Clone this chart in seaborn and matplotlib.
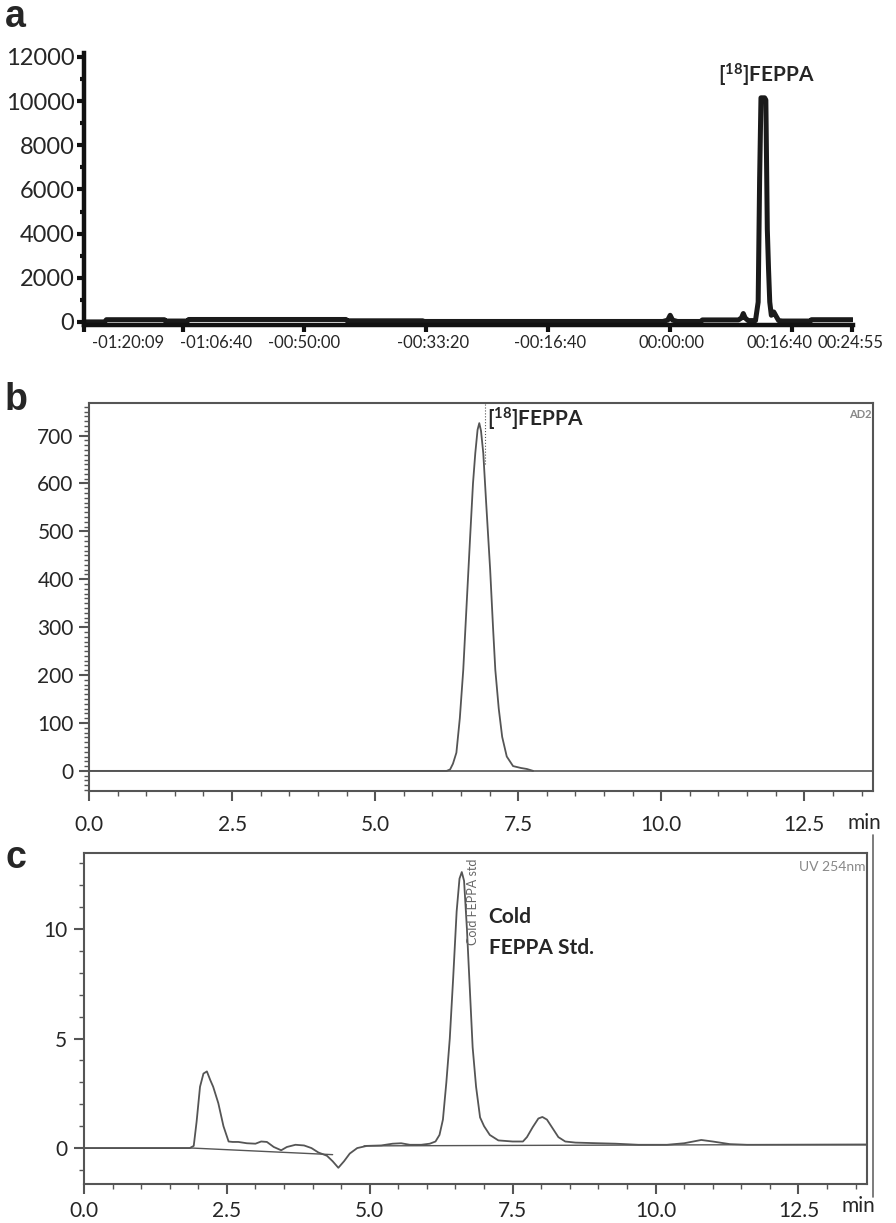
import numpy as np
import matplotlib
matplotlib.use("Agg")
import matplotlib.pyplot as plt
import seaborn as sns
from matplotlib.lines import Line2D
from matplotlib.ticker import MultipleLocator, FixedLocator
from matplotlib.transforms import ScaledTranslation

sns.set_style("ticks")
plt.rcParams["font.family"] = ["Lato", "DejaVu Sans"]
plt.rcParams["mathtext.fontset"] = "custom"
plt.rcParams["mathtext.rm"] = "Lato:bold"
plt.rcParams["mathtext.it"] = "Lato:bold"
plt.rcParams["mathtext.bf"] = "Lato:bold"

# ---- panel a: radio trace (time in s relative to injection) ----
a_time = [-4809, -4640, -4625, -4150, -4140, -3960, -3950, -2660, -2650, -2030, -2020,
          -1000, -60, -20, 0, 20, 60, 250, 265, 560, 585, 600, 615, 640, 700, 722, 734,
          745, 760, 775, 785, 797, 807, 817, 830, 850, 870, 890, 920, 1150, 1160, 1495]
a_counts = [0, 0, 100, 100, 40, 40, 110, 110, 50, 50, 20,
            20, 20, 80, 300, 80, 20, 20, 90, 90, 180, 380, 180, 60, 60, 900, 6500,
            10150, 10150, 10150, 10050, 4200, 2400, 900, 300, 450, 250, 60, 40, 40, 100, 100]
a_tick_pos = [-4809, -4000, -3000, -2000, -1000, 0, 1000, 1495]
a_tick_lab = ["-01:20:09", "-01:06:40", "-00:50:00", "-00:33:20", "-00:16:40",
              "00:00:00", "00:16:40", "00:24:55"]
a_lab_shift = [44, 33, 0, 7, 2, 1, -13, -2]   # px, labels sit off their ticks
a_peak_time = 788

# ---- panel b: radio HPLC (min, mV) ----
b_time = [0.0, 6.25, 6.31, 6.36, 6.42, 6.48, 6.54, 6.60, 6.66, 6.71, 6.75, 6.79, 6.82,
          6.85, 6.89, 6.94, 7.01, 7.06, 7.10, 7.16, 7.22, 7.30, 7.41, 7.55, 7.65, 7.76]
b_signal = [0, 0, 3, 15, 38, 110, 211, 350, 488, 600, 663, 712, 726,
            710, 663, 560, 420, 300, 211, 130, 71, 30, 10, 6, 4, 0]
b_ticks = [0.0, 2.5, 5.0, 7.5, 10.0, 12.5]
b_marker_time = 6.92

# ---- panel c: UV 254 nm trace (min, mAU) ----
c_time = [0.0, 1.85, 1.92, 1.97, 2.03, 2.09, 2.15, 2.21, 2.26, 2.35, 2.44, 2.53, 2.6,
          2.7, 2.85, 3.0, 3.1, 3.2, 3.32, 3.45, 3.55, 3.7, 3.85, 3.98, 4.1, 4.25, 4.35,
          4.45, 4.55, 4.65, 4.78, 4.95, 5.2, 5.4, 5.55, 5.7, 5.9, 6.05, 6.15, 6.22, 6.28,
          6.34, 6.40, 6.46, 6.52, 6.57, 6.61, 6.65, 6.70, 6.75, 6.80, 6.86, 6.93, 7.0,
          7.1, 7.25, 7.5, 7.68, 7.75, 7.85, 7.95, 8.02, 8.1, 8.2, 8.3, 8.42, 8.6, 9.0,
          9.3, 9.7, 10.2, 10.5, 10.8, 11.0, 11.3, 11.6, 13.7]
c_signal = [0.0, 0.0, 0.1, 1.2, 2.8, 3.4, 3.5, 3.1, 2.8, 2.05, 1.0, 0.3, 0.28,
            0.28, 0.22, 0.2, 0.3, 0.28, 0.05, -0.1, 0.05, 0.15, 0.12, 0.0, -0.2, -0.35, -0.6,
            -0.9, -0.6, -0.25, 0.0, 0.1, 0.12, 0.2, 0.22, 0.15, 0.15, 0.2, 0.3, 0.6, 1.3,
            3.0, 5.0, 7.8, 10.8, 12.3, 12.6, 12.2, 10.0, 7.3, 4.6, 2.8, 1.4, 1.0,
            0.6, 0.35, 0.3, 0.3, 0.5, 0.95, 1.35, 1.42, 1.3, 0.9, 0.5, 0.3, 0.25, 0.22,
            0.2, 0.15, 0.15, 0.22, 0.37, 0.3, 0.18, 0.15, 0.15]
c_base1_time = [0.0, 1.9, 4.35]
c_base1 = [0.0, 0.0, -0.3]
c_base2_time = [4.9, 13.7]
c_base2 = [0.1, 0.17]
c_ticks = [0.0, 2.5, 5.0, 7.5, 10.0, 12.5]

fig = plt.figure(figsize=(8.96, 12.23), dpi=100)
W, H = 896, 1223

def box(l, t, r, b):
    return [l / W, 1 - b / H, (r - l) / W, (b - t) / H]

# ================= a =================
ax_a = fig.add_axes(box(84, 53, 853, 325))
sns.lineplot(x=a_time, y=a_counts, ax=ax_a, color="#1a1a1a", linewidth=3.6,
             estimator=None, sort=False)
ax_a.set_xlim(-4809, 1500)
ax_a.set_ylim(-140, 12180)
for s in ["top", "right"]:
    ax_a.spines[s].set_visible(False)
for s in ["left", "bottom"]:
    ax_a.spines[s].set_linewidth(3.2)
    ax_a.spines[s].set_color("#111111")
ax_a.yaxis.set_major_locator(MultipleLocator(2000))
ax_a.yaxis.set_minor_locator(MultipleLocator(1000))
ax_a.xaxis.set_major_locator(FixedLocator(a_tick_pos))
ax_a.set_xticklabels(a_tick_lab)
ax_a.tick_params(axis="y", which="major", direction="out", length=5, width=3,
                 labelsize=17, pad=2, color="#111111")
ax_a.tick_params(axis="y", which="minor", direction="out", length=3, width=3, color="#111111")
ax_a.tick_params(axis="x", which="major", direction="out", length=5, width=3,
                 labelsize=12, pad=2, color="#111111")
for lab, dx in zip(ax_a.get_xticklabels(), a_lab_shift):
    lab.set_transform(lab.get_transform() + ScaledTranslation(dx / 100, 0, fig.dpi_scale_trans))
ax_a.set_xlabel("")
ax_a.set_ylabel("")
ax_a.text(a_peak_time, 11150, r"[$^{18}$]FEPPA", fontsize=15, fontweight="bold",
          ha="center", va="center")
fig.text(5 / W, 1 - 27 / H, "a", fontsize=27, fontweight="bold",
         family="Liberation Sans", ha="left", va="baseline")

# ================= b =================
gray = "#555555"
ax_b = fig.add_axes(box(89, 403, 873, 791))
ax_b.axhline(0, color=gray, linewidth=1.2)
sns.lineplot(x=b_time, y=b_signal, ax=ax_b, color=gray, linewidth=1.3,
             estimator=None, sort=False)
ax_b.plot([b_marker_time, b_marker_time], [640, 768], color=gray, linewidth=0.8,
          linestyle=":")
ax_b.set_xlim(0, 13.7)
ax_b.set_ylim(-42, 768)
ax_b.xaxis.set_major_locator(FixedLocator(b_ticks))
ax_b.xaxis.set_minor_locator(MultipleLocator(0.5))
ax_b.yaxis.set_major_locator(MultipleLocator(100))
ax_b.yaxis.set_minor_locator(MultipleLocator(10))
for s in ax_b.spines.values():
    s.set_color(gray)
    s.set_linewidth(1.5)
ax_b.tick_params(which="major", direction="out", length=7, width=1.5, color=gray,
                 labelsize=15, pad=4)
ax_b.tick_params(axis="x", which="major", pad=10)
ax_b.tick_params(which="minor", direction="out", length=3.5, width=1.0, color=gray)
ax_b.set_xlabel("")
ax_b.set_ylabel("")
ax_b.text(6.96, 733, r"[$^{18}$]FEPPA", fontsize=15, fontweight="bold",
          ha="left", va="center")
ax_b.text(0.998, 0.985, "AD2", transform=ax_b.transAxes, fontsize=8, color="#888888",
          ha="right", va="top", fontweight="bold")
ax_b.text(13.55, -108, "min", fontsize=15, ha="center", va="center")
fig.text(5 / W, 1 - 410 / H, "b", fontsize=27, fontweight="bold",
         family="Liberation Sans", ha="left", va="baseline")

# ================= c =================
ax_c = fig.add_axes(box(84, 853, 867, 1184))
sns.lineplot(x=c_base1_time, y=c_base1, ax=ax_c, color=gray, linewidth=1.0,
             estimator=None, sort=False)
sns.lineplot(x=c_base2_time, y=c_base2, ax=ax_c, color=gray, linewidth=1.0,
             estimator=None, sort=False)
sns.lineplot(x=c_time, y=c_signal, ax=ax_c, color=gray, linewidth=1.3,
             estimator=None, sort=False)
ax_c.set_xlim(0, 13.7)
ax_c.set_ylim(-1.64, 13.47)
ax_c.xaxis.set_major_locator(FixedLocator(c_ticks))
ax_c.xaxis.set_minor_locator(MultipleLocator(0.5))
ax_c.yaxis.set_major_locator(MultipleLocator(5))
ax_c.yaxis.set_minor_locator(MultipleLocator(1))
for s in ax_c.spines.values():
    s.set_color(gray)
    s.set_linewidth(1.5)
ax_c.tick_params(which="major", direction="out", length=7, width=1.5, color=gray,
                 labelsize=15, pad=5)
ax_c.tick_params(which="minor", direction="out", length=3.5, width=1.0, color=gray)
ax_c.set_xlabel("")
ax_c.set_ylabel("")
ax_c.text(6.8, 13.2, "Cold FEPPA std", rotation=90, fontsize=9, color="#666666",
          ha="center", va="top")
ax_c.text(7.08, 11.0, "Cold\nFEPPA Std.", fontsize=15, fontweight="bold",
          ha="left", va="top", linespacing=1.7)
ax_c.text(0.998, 0.975, "UV 254nm", transform=ax_c.transAxes, fontsize=10,
          color="#888888", ha="right", va="top")
ax_c.text(13.55, -2.65, "min", fontsize=15, ha="center", va="center")
fig.text(5 / W, 1 - 868 / H, "c", fontsize=27, fontweight="bold",
         family="Liberation Sans", ha="left", va="baseline")

# stray frame line at right of panel c
fig.add_artist(Line2D([873 / W, 873 / W], [1 - 835 / H, 1 - 1197 / H],
                      color="#666666", linewidth=1.2))

fig.savefig("out.png", dpi=100)
